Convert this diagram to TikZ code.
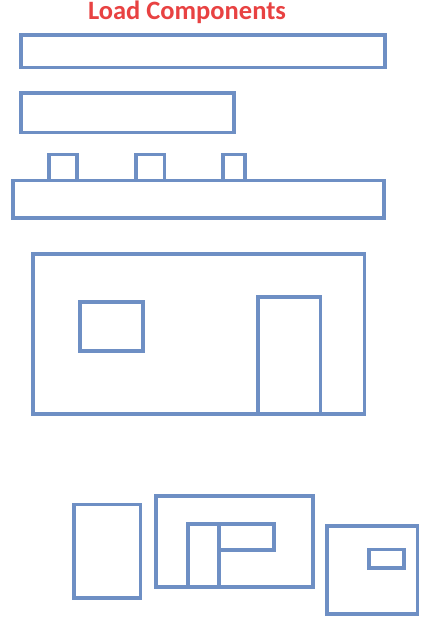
\documentclass[tikz,border=0pt]{standalone}
\usepackage{fontspec}
\setmainfont{Carlito}
\usepackage{xcolor}
\definecolor{partblue}{RGB}{110,143,196}
\definecolor{titlered}{RGB}{232,66,66}

\tikzset{
    part/.style={draw=partblue, line width=3.6pt, line join=miter}
}

\begin{document}
\begin{tikzpicture}[x=1pt, y=-1pt]
    \useasboundingbox (0, 0) rectangle (432, 624);

    \node (load_components) [text=titlered, font=\bfseries\fontsize{26.5}{30}\selectfont, anchor=base, inner sep=0pt] at (187, 19)
    {
        Load Components
    };

    % top strips
    \draw[part] (20.7, 34.7) rectangle (385, 67.3);
    \draw[part] (20.7, 93) rectangle (234, 132.5);

    % strip with three studs
    \draw[part] (13, 180.3) rectangle (383.7, 218);
    \draw[part] (49.2, 180.3) -- (49.2, 154.3) -- (77, 154.3) -- (77, 180.3);
    \draw[part] (136, 180.3) -- (136, 154.3) -- (164.3, 154.3) -- (164.3, 180.3);
    \draw[part] (223, 180.3) -- (223, 154.3) -- (245, 154.3) -- (245, 180.3);

    % wall with window and door
    \draw[part] (32.7, 254.2) rectangle (364.3, 413.7);
    \draw[part] (80, 302) rectangle (143.2, 351);
    \draw[part] (258, 413.7) -- (258, 297) -- (320.3, 297) -- (320.3, 413.7);

    % bottom parts
    \draw[part] (73.7, 504.3) rectangle (140.3, 598);
    \draw[part] (155.7, 496) rectangle (312.7, 587);
    \draw[part] (188, 587) -- (188, 524) -- (218.7, 524) -- (218.7, 587);
    \draw[part] (218.7, 524) -- (274, 524) -- (274, 550) -- (218.7, 550);
    \draw[part] (327, 525.7) rectangle (417.3, 614);
    \draw[part] (368.7, 549.3) rectangle (403.7, 567.7);
\end{tikzpicture}
\end{document}
